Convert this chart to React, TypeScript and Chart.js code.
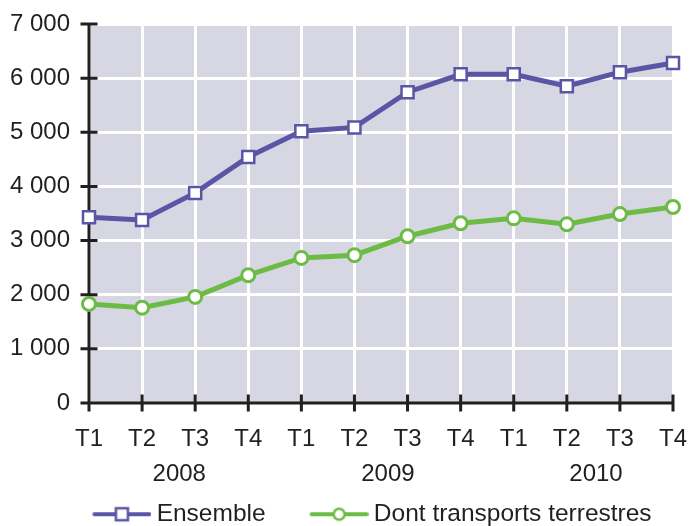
import React, { useEffect, useRef } from 'react';
import { Chart, registerables } from 'chart.js';

Chart.register(...registerables);

const quarters = ['T1', 'T2', 'T3', 'T4', 'T1', 'T2', 'T3', 'T4', 'T1', 'T2', 'T3', 'T4'];
const years = ['2008', '2009', '2010'];
const yearCenters = [1.7, 5.63, 9.55];
const ensemble = [3430, 3380, 3880, 4545, 5020, 5090, 5740, 6070, 6070, 5850, 6110, 6280];
const terrestres = [1830, 1760, 1960, 2360, 2680, 2730, 3080, 3320, 3410, 3300, 3490, 3620];
const seriesNames = ['Ensemble', 'Dont transports terrestres'];
const yMin = 0;
const yMax = 7000;
const yStep = 1000;

const PURPLE = 'rgb(90,85,165)';
const GREEN = 'rgb(108,187,69)';
const BG = 'rgb(215,215,227)';
const DARK = 'rgb(35,31,32)';
const FONT = "'Liberation Sans', Arial, sans-serif";
const FS = 24;
const LFS = 24.5;

const fmt = (v: number) => String(v).replace(/\B(?=(\d{3})+(?!\d))/g, ' ');

function legendImage(color: string, shape: 'rect' | 'circle') {
  const c = document.createElement('canvas');
  c.width = 110;
  c.height = 22;
  const ctx = c.getContext('2d')!;
  const a = 51;
  const w = 59;
  ctx.strokeStyle = color;
  ctx.lineWidth = 4;
  ctx.lineCap = 'round';
  ctx.beginPath();
  ctx.moveTo(a + 2, 11);
  ctx.lineTo(a + w - 2, 11);
  ctx.stroke();
  const cx = a + w / 2;
  ctx.fillStyle = '#fff';
  ctx.lineWidth = 2.5;
  ctx.beginPath();
  if (shape === 'rect') {
    ctx.rect(cx - 6, 11 - 6, 12, 12);
  } else {
    ctx.arc(cx, 11, 5.5, 0, Math.PI * 2);
  }
  ctx.fill();
  ctx.stroke();
  return c;
}

const bgPlugin = {
  id: 'bgPlugin',
  beforeDraw(chart: any) {
    const { ctx, chartArea } = chart;
    ctx.save();
    ctx.fillStyle = BG;
    ctx.fillRect(chartArea.left, chartArea.top, chartArea.right - chartArea.left, chartArea.bottom - chartArea.top);
    ctx.restore();
  },
};

const axesPlugin = {
  id: 'axesPlugin',
  beforeDatasetsDraw(chart: any) {
    const { ctx, chartArea, scales } = chart;
    const x = scales.x;
    const y = scales.y;
    const t = 8.5;
    ctx.save();
    ctx.strokeStyle = DARK;
    ctx.lineWidth = 3;
    ctx.lineCap = 'butt';
    ctx.beginPath();
    ctx.moveTo(chartArea.left, chartArea.top);
    ctx.lineTo(chartArea.left, chartArea.bottom + t);
    ctx.moveTo(chartArea.left - t, chartArea.bottom);
    ctx.lineTo(chartArea.right, chartArea.bottom);
    y.ticks.forEach((tk: any) => {
      const py = y.getPixelForValue(tk.value);
      ctx.moveTo(chartArea.left - t, py);
      ctx.lineTo(chartArea.left + t, py);
    });
    quarters.forEach((_, i) => {
      const px = x.getPixelForValue(i);
      ctx.moveTo(px, chartArea.bottom - t);
      ctx.lineTo(px, chartArea.bottom + t);
    });
    ctx.stroke();
    ctx.restore();
  },
};

const yearsPlugin = {
  id: 'yearsPlugin',
  afterDraw(chart: any) {
    const { ctx, chartArea, scales } = chart;
    ctx.save();
    ctx.fillStyle = DARK;
    ctx.font = `${FS}px ${FONT}`;
    ctx.textAlign = 'center';
    ctx.textBaseline = 'middle';
    years.forEach((yr, i) => {
      ctx.fillText(yr, scales.x.getPixelForValue(yearCenters[i]), chartArea.bottom + 71);
    });
    ctx.restore();
  },
};

export default function App() {
  const ref = useRef<HTMLCanvasElement | null>(null);
  useEffect(() => {
    document.body.style.margin = '0';
    const canvas = ref.current!;
    const chart = new Chart(canvas, {
      type: 'line',
      data: {
        labels: quarters,
        datasets: [
          {
            label: seriesNames[0],
            data: ensemble,
            borderColor: PURPLE,
            backgroundColor: '#fff',
            borderWidth: 5,
            pointStyle: 'rect',
            pointRadius: 8.5,
            pointBorderWidth: 2.5,
            pointBackgroundColor: '#fff',
            pointBorderColor: PURPLE,
            tension: 0,
            clip: false,
          },
          {
            label: seriesNames[1],
            data: terrestres,
            borderColor: GREEN,
            backgroundColor: '#fff',
            borderWidth: 5,
            pointStyle: 'circle',
            pointRadius: 6.5,
            pointBorderWidth: 3,
            pointBackgroundColor: '#fff',
            pointBorderColor: GREEN,
            tension: 0,
            clip: false,
          },
        ],
      },
      options: {
        animation: false,
        responsive: true,
        maintainAspectRatio: false,
        layout: { padding: { top: 24, left: 9, right: 0, bottom: 0 } },
        plugins: {
          tooltip: { enabled: false },
          legend: {
            position: 'bottom',
            maxHeight: 24,
            labels: {
              usePointStyle: true,
              pointStyleWidth: 96,
              padding: 0,
              color: DARK,
              font: { family: FONT, size: LFS },
              generateLabels: (ch: any) =>
                ch.data.datasets.map((ds: any, i: number) => ({
                  text: ds.label,
                  fillStyle: '#fff',
                  strokeStyle: ds.borderColor,
                  lineWidth: 0,
                  pointStyle: legendImage(ds.borderColor, i === 0 ? 'rect' : 'circle'),
                  datasetIndex: i,
                  hidden: false,
                  fontColor: DARK,
                })),
            },
          },
        },
        scales: {
          x: {
            type: 'category',
            offset: false,
            grid: { color: '#fff', lineWidth: 3, drawTicks: true, tickLength: 22, tickColor: 'rgba(0,0,0,0)' },
            border: { display: false },
            ticks: { color: DARK, font: { family: FONT, size: FS }, padding: 0, maxRotation: 0, autoSkip: false },
            afterFit: (s: any) => {
              s.height = 99;
            },
          },
          y: {
            min: yMin,
            max: yMax,
            grid: { color: '#fff', lineWidth: 3, drawTicks: true, tickLength: 19, tickColor: 'rgba(0,0,0,0)' },
            border: { display: false },
            ticks: {
              stepSize: yStep,
              color: DARK,
              font: { family: FONT, size: FS },
              padding: 0,
              callback: (v: any) => fmt(Number(v)),
            },
            afterFit: (s: any) => {
              s.width = 80;
            },
          },
          yRight: {
            position: 'right',
            display: true,
            grid: { display: false, drawTicks: false },
            border: { display: false },
            ticks: { display: false },
            afterFit: (s: any) => {
              s.width = 18;
            },
          },
        },
      },
      plugins: [bgPlugin, axesPlugin, yearsPlugin],
    } as any);
    return () => chart.destroy();
  }, []);
  return (
    <div style={{ width: 691, height: 526, position: 'relative' }}>
      <canvas ref={ref} />
    </div>
  );
}
